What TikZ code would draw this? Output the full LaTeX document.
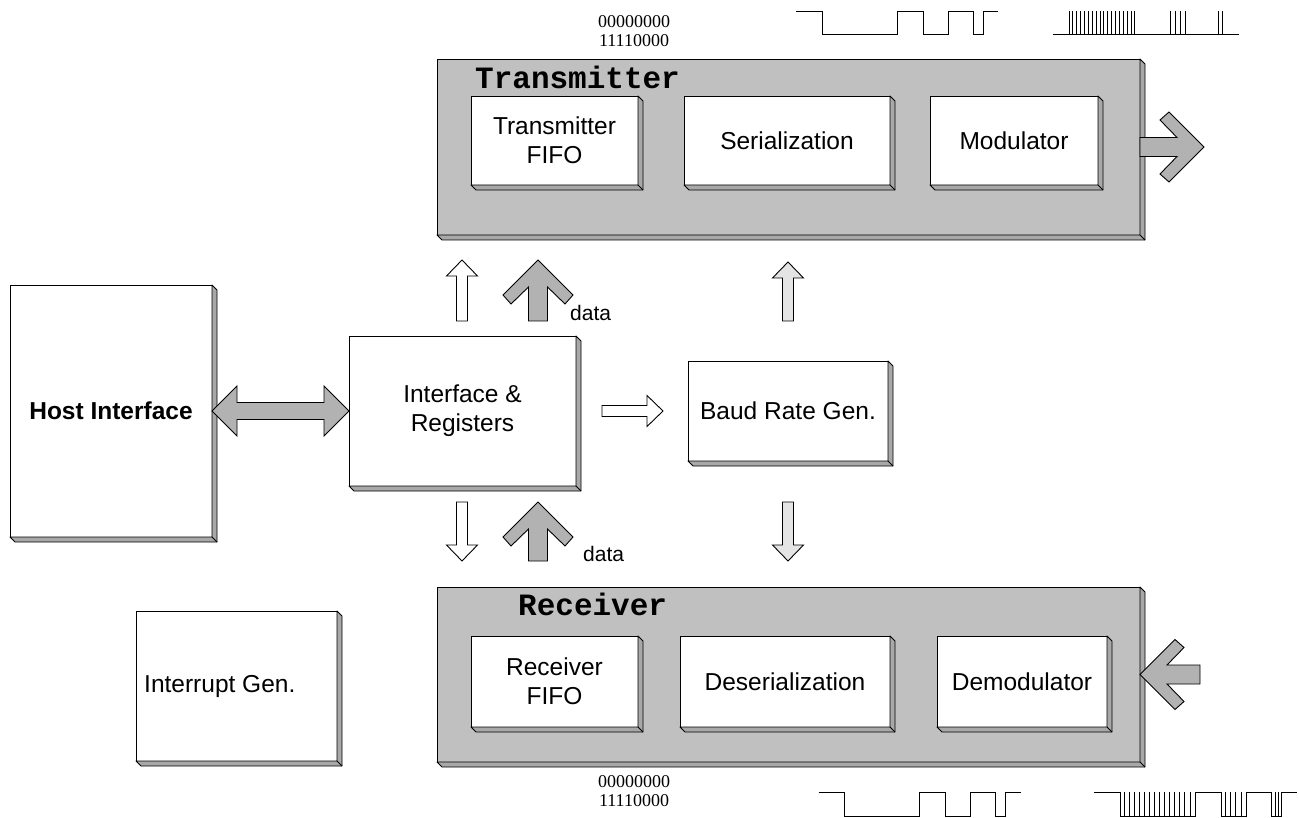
\documentclass[tikz,border=0pt]{standalone}
\usepackage{fontspec}
\setmainfont{Liberation Sans}
\newfontfamily\titlefont{Liberation Mono}
\newfontfamily\digitfont{Liberation Serif}
\usetikzlibrary{calc}
\definecolor{boxgray}{HTML}{C0C0C0}
\definecolor{bevgray}{HTML}{A8A8A8}
\definecolor{arrgray}{HTML}{B2B2B2}
\definecolor{arrlight}{HTML}{E4E4E4}
\tikzset{
  box/.style={draw=black, line width=0.9pt, fill=white, outer sep=0pt, inner sep=2pt,
    anchor=north west, font=\fontsize{24.5}{29}\selectfont, align=center},
  outerbox/.style={box, fill=boxgray},
  bevelface/.style={draw=black, line width=0.9pt, fill=bevgray, line join=round},
  blockarrow/.style={draw=black, line width=0.9pt, fill=arrgray, line join=miter},
  thinwhite/.style={draw=black, line width=0.9pt, fill=white},
  thinlight/.style={draw=black, line width=0.9pt, fill=arrlight},
  wave/.style={draw=black, line width=1pt},
  titletext/.style={font=\titlefont\bfseries\fontsize{31}{31}\selectfont, anchor=base west, inner sep=0pt},
  lbl/.style={font=\fontsize{21}{24}\selectfont, anchor=base west, inner sep=0pt},
  bits/.style={font=\digitfont\fontsize{18}{18.5}\selectfont, align=center, inner sep=0pt},
}
\newcommand\bevelof[1]{%
  \path[bevelface] (#1.north east) -- ++(5,5) -- ($(#1.south east)+(5,5)$) -- ($(#1.south west)+(5,5)$) -- (#1.south west) -- (#1.south east) -- cycle;
  \draw[bevelface] (#1.south east) -- ++(5,5);}
% chevron block arrow: style, tip, angle, length
\newcommand\chevarrow[4]{%
  \path[#1, shift={(#2)}, rotate=#3] (0,0) -- (-35,35) -- (-44,27) -- (-27,9.5) -- (-#4,9.5) -- (-#4,-9.5) -- (-27,-9.5) -- (-44,-27) -- (-35,-35) -- cycle;}
% thin block arrow: style, tip, angle, length
\newcommand\thinarrow[4]{%
  \path[#1, shift={(#2)}, rotate=#3] (0,0) -- (-16,15.5) -- (-16,5.5) -- (-#4,5.5) -- (-#4,-5.5) -- (-16,-5.5) -- (-16,-15.5) -- cycle;}
\begin{document}
\begin{tikzpicture}[x=1pt,y=-1pt]
\useasboundingbox (0,0) rectangle (1299,818);

% ---------- Transmitter ----------
\node[outerbox, minimum width=703pt, minimum height=176pt] (tx) at (437,59) {};
\bevelof{tx}
\node[titletext] (txtitle) at (475,89) {Transmitter};
\node[box, minimum width=167pt, minimum height=89pt] (txfifo) at (471,96) {Transmitter\\FIFO};
\bevelof{txfifo}
\node[box, minimum width=206pt, minimum height=89pt] (ser) at (684,96) {Serialization};
\bevelof{ser}
\node[box, minimum width=168pt, minimum height=89pt] (mod) at (930,96) {Modulator};
\bevelof{mod}

% ---------- Receiver ----------
\node[outerbox, minimum width=703pt, minimum height=175pt] (rx) at (437,587) {};
\bevelof{rx}
\node[titletext] (rxtitle) at (518,615) {Receiver};
\node[box, minimum width=167pt, minimum height=91pt] (rxfifo) at (471,636) {Receiver\\FIFO};
\bevelof{rxfifo}
\node[box, minimum width=210pt, minimum height=91pt] (deser) at (680,636) {Deserialization};
\bevelof{deser}
\node[box, minimum width=170pt, minimum height=91pt] (demod) at (937,636) {Demodulator};
\bevelof{demod}

% ---------- Left / middle blocks ----------
\node[box, minimum width=202pt, minimum height=252pt, font=\fontsize{24.5}{29}\selectfont\bfseries] (host) at (10,285) {Host Interface};
\bevelof{host}
\node[box, minimum width=227pt, minimum height=150pt] (ir) at (349,336) {Interface \&\\Registers};
\bevelof{ir}
\node[box, minimum width=200pt, minimum height=100pt] (baud) at (688,361) {Baud Rate Gen.};
\bevelof{baud}
\node[box, minimum width=201pt, minimum height=150pt] (irq) at (136,611) {};
\bevelof{irq}
\node[anchor=west, inner sep=0pt, font=\fontsize{24.5}{29}\selectfont] (irqtext) at ($(irq.west)+(8,0)$) {Interrupt Gen.};

% ---------- Block arrows ----------
% Host <-> Interface
\path[blockarrow, shift={(host.east)}] (0,0) -- (25,-25) -- (25,-8.5) -- (112,-8.5) -- (112,-25) -- (137,0) -- (112,25) -- (112,8.5) -- (25,8.5) -- (25,25) -- cycle;

\coordinate (txout) at ($(tx.east)+(64,0)$);
\chevarrow{blockarrow}{txout}{0}{64}
\chevarrow{blockarrow}{rx.east}{180}{60}

\coordinate (dataUpTip) at (538,260);
\chevarrow{blockarrow}{dataUpTip}{90}{61}
\coordinate (dataDnTip) at (538,502);
\chevarrow{blockarrow}{dataDnTip}{90}{59}

\coordinate (ctlUpTip) at (462,260);
\thinarrow{thinwhite}{ctlUpTip}{90}{61}
\coordinate (ctlDnTip) at (462,561);
\thinarrow{thinwhite}{ctlDnTip}{-90}{59}
\coordinate (ctlRtTip) at (663,411);
\thinarrow{thinwhite}{ctlRtTip}{0}{61}

\coordinate (baudUpTip) at (788,262);
\thinarrow{thinlight}{baudUpTip}{90}{59}
\coordinate (baudDnTip) at (788,561);
\thinarrow{thinlight}{baudDnTip}{-90}{59}

\node[lbl] (dataup) at (570,321) {data};
\node[lbl] (datadn) at (583,561) {data};

% ---------- Bit patterns ----------
\node[bits] (bitsTop) at (634,31) {00000000\\11110000};
\node[bits] (bitsBot) at (634,791) {00000000\\11110000};

% ---------- Waveforms (top) ----------
\draw[wave] (796,11.5) -- (822,11.5) -- (822,35) -- (897,35) -- (897,11.5) -- (923,11.5) -- (923,35) -- (948,35) -- (948,11.5) -- (973,11.5) -- (973,35) -- (983,35) -- (983,11.5) -- (998,11.5);
\draw[wave] (1053,35) -- (1239,35);
\foreach \k in {0,...,17} \draw[wave] ({1069+\k*3.88},35) -- ({1069+\k*3.88},11);
\foreach \x in {1170,1175,1180,1185,1218,1222} \draw[wave] (\x,35) -- (\x,11);

% ---------- Waveforms (bottom) ----------
\draw[wave] (818.5,792) -- (844.5,792) -- (844.5,816) -- (919.5,816) -- (919.5,792) -- (945.5,792) -- (945.5,816) -- (970.5,816) -- (970.5,792) -- (995.5,792) -- (995.5,816) -- (1005.5,816) -- (1005.5,792) -- (1020.5,792);
\draw[wave] (1094,792) -- (1120,792) -- (1120,816) -- (1195,816) -- (1195,792) -- (1221,792) -- (1221,816) -- (1246,816) -- (1246,792) -- (1271,792) -- (1271,816) -- (1281,816) -- (1281,792) -- (1297,792);
\foreach \k in {0,...,13} \draw[wave] ({1124+\k*5.08},816) -- ({1124+\k*5.08},792);
\foreach \x in {1225,1230,1235,1241,1275,1278} \draw[wave] (\x,816) -- (\x,792);
\end{tikzpicture}
\end{document}
